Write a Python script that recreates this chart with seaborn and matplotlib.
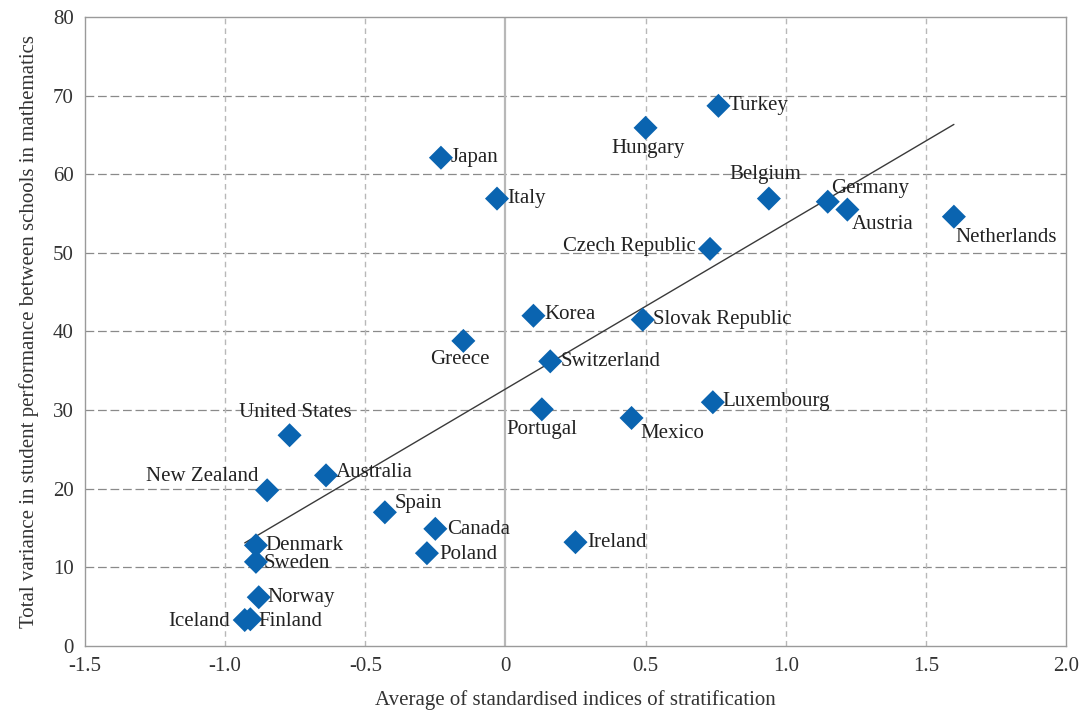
import matplotlib
matplotlib.use("Agg")
import matplotlib.pyplot as plt
import seaborn as sns
import pandas as pd

# Country-level data
countries = ["Turkey", "Hungary", "Japan", "Italy", "Belgium", "Germany", "Austria",
             "Netherlands", "Czech Republic", "Korea", "Slovak Republic", "Greece",
             "Switzerland", "Portugal", "Mexico", "Luxembourg", "United States",
             "Australia", "New Zealand", "Spain", "Canada", "Poland", "Ireland",
             "Denmark", "Sweden", "Norway", "Iceland", "Finland"]
stratification = [0.76, 0.50, -0.23, -0.03, 0.94, 1.15, 1.22,
                  1.60, 0.73, 0.10, 0.49, -0.15,
                  0.16, 0.13, 0.45, 0.74, -0.77,
                  -0.64, -0.85, -0.43, -0.25, -0.28, 0.25,
                  -0.89, -0.89, -0.88, -0.93, -0.91]
between_school_variance = [68.7, 65.9, 62.1, 56.9, 56.9, 56.5, 55.5,
                           54.6, 50.5, 42.0, 41.5, 38.8,
                           36.2, 30.1, 29.0, 31.0, 26.8,
                           21.7, 19.8, 17.0, 14.9, 11.8, 13.2,
                           12.8, 10.7, 6.2, 3.3, 3.4]

x_ticks = [-1.5, -1.0, -0.5, 0.0, 0.5, 1.0, 1.5, 2.0]
x_tick_labels = ["-1.5", "-1.0", "-0.5", "0", "0.5", "1.0", "1.5", "2.0"]
y_ticks = [0, 10, 20, 30, 40, 50, 60, 70, 80]

df = pd.DataFrame({"country": countries, "x": stratification, "y": between_school_variance})

# Label placement: (dx, dy in pixels, horizontal alignment)
label_pos = {
    "Turkey": (10, 0, "left"), "Hungary": (3, -21, "center"), "Japan": (10, 0, "left"),
    "Italy": (10, 0, "left"), "Belgium": (-4, 24, "center"), "Germany": (3, 13, "left"),
    "Austria": (4, -15, "left"), "Netherlands": (1, -21, "left"),
    "Czech Republic": (-14, 2, "right"), "Korea": (11, 1, "left"),
    "Slovak Republic": (10, 0, "left"), "Greece": (-3, -19, "center"),
    "Switzerland": (10, 0, "left"), "Portugal": (0, -20, "center"),
    "Mexico": (9, -16, "left"), "Luxembourg": (10, 1, "left"),
    "United States": (6, 23, "center"), "Australia": (10, 3, "left"),
    "New Zealand": (-9, 14, "right"), "Spain": (10, 9, "left"),
    "Canada": (12, -1, "left"), "Poland": (12, -1, "left"), "Ireland": (12, 0, "left"),
    "Denmark": (9, 0, "left"), "Sweden": (8, -2, "left"), "Norway": (9, 0, "left"),
    "Iceland": (-15, -1, "right"), "Finland": (8, -2, "left"),
}

sns.set_theme(style="white")
plt.rcParams["font.family"] = ["Liberation Serif", "DejaVu Serif"]

fig = plt.figure(figsize=(10.85, 7.16), dpi=100)
ax = fig.add_axes([0.0783, 0.0978, 0.9042, 0.8785])

# Grid lines
for yv in y_ticks[1:-1]:
    ax.axhline(yv, color="#8a8a8a", lw=0.9, ls=(0, (7, 3)), zorder=0)
for xv in x_ticks[1:-1]:
    if xv == 0:
        ax.axvline(xv, color="#b8b8b8", lw=1.6, zorder=0)
    else:
        ax.axvline(xv, color="#b8b8b8", lw=1.0, ls=(0, (4, 3)), zorder=0)

# Regression line across the observed range
sns.regplot(data=df, x="x", y="y", ax=ax, scatter=False, ci=None, truncate=True,
            line_kws={"color": "#3a3a3a", "lw": 1.0, "zorder": 2})

sns.scatterplot(data=df, x="x", y="y", ax=ax, marker="D", s=150, color="#0a64b0",
                edgecolor="none", zorder=3, legend=False)

for _, r in df.iterrows():
    dx, dy, ha = label_pos[r["country"]]
    ax.annotate(r["country"], (r["x"], r["y"]), xytext=(dx, dy), textcoords="offset pixels",
                ha=ha, va="center", fontsize=15, color="#222222", zorder=4)

ax.set_xlim(-1.5, 2.0)
ax.set_ylim(0, 80)
ax.set_xticks(x_ticks)
ax.set_xticklabels(x_tick_labels)
ax.set_yticks(y_ticks)
ax.tick_params(axis="both", length=0, labelsize=15, colors="#333333", pad=8)
for s in ax.spines.values():
    s.set_color("#9a9a9a")
    s.set_linewidth(1.0)

ax.set_xlabel("Average of standardised indices of stratification", fontsize=15,
              color="#333333", labelpad=10)
ax.set_ylabel("Total variance in student performance between schools in mathematics",
              fontsize=15, color="#333333", labelpad=10)

fig.savefig("out.png", dpi=100)
